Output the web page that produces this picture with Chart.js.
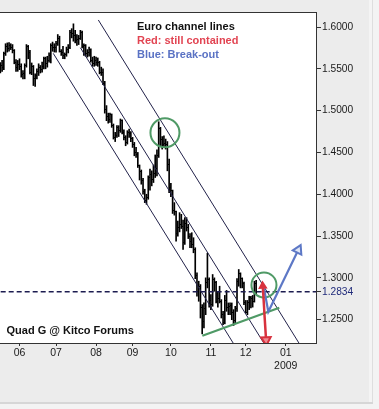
<!DOCTYPE html>
<html>
<head>
<meta charset="utf-8">
<script src="https://cdn.jsdelivr.net/npm/chart.js@4.4.1/dist/chart.umd.min.js"></script>
<style>
  html, body { margin: 0; padding: 0; background: #f3f3f3; }
  #wrap { position: relative; width: 379px; height: 409px; overflow: hidden; }
  #panel { position: absolute; left: 0; top: 0; width: 369px; height: 402px; background: #ececec; }
  #edgeR { position: absolute; left: 369px; top: 0; width: 3px; height: 402px; background: #f4f4f4; }
  #edgeR2 { position: absolute; left: 372px; top: 0; width: 1px; height: 403px; background: #dedede; }
  #edgeB { position: absolute; left: 0; top: 402px; width: 373px; height: 2px; background: #d6d6d6; }
  #c { position: absolute; left: 0; top: 0; }
</style>
</head>
<body>
<div id="wrap">
  <div id="panel"></div><div id="edgeR"></div><div id="edgeR2"></div><div id="edgeB"></div>
  <canvas id="c" width="379" height="409"></canvas>
</div>
<script>
// ---------- DATA (EUR/USD daily bars) ----------
const dates = [
 '2008-05-16','2008-05-19','2008-05-20','2008-05-21','2008-05-22','2008-05-23','2008-05-26','2008-05-27','2008-05-28','2008-05-29','2008-05-30',
 '2008-06-02','2008-06-03','2008-06-04','2008-06-05','2008-06-06','2008-06-09','2008-06-10','2008-06-11','2008-06-12','2008-06-13',
 '2008-06-16','2008-06-17','2008-06-18','2008-06-19','2008-06-20','2008-06-23','2008-06-24','2008-06-25','2008-06-26','2008-06-27','2008-06-30',
 '2008-07-01','2008-07-02','2008-07-03','2008-07-04','2008-07-07','2008-07-08','2008-07-09','2008-07-10','2008-07-11','2008-07-14','2008-07-15',
 '2008-07-16','2008-07-17','2008-07-18','2008-07-21','2008-07-22','2008-07-23','2008-07-24','2008-07-25','2008-07-28','2008-07-29','2008-07-30','2008-07-31',
 '2008-08-01','2008-08-04','2008-08-05','2008-08-06','2008-08-07','2008-08-08','2008-08-11','2008-08-12','2008-08-13','2008-08-14','2008-08-15',
 '2008-08-18','2008-08-19','2008-08-20','2008-08-21','2008-08-22','2008-08-25','2008-08-26','2008-08-27','2008-08-28','2008-08-29',
 '2008-09-01','2008-09-02','2008-09-03','2008-09-04','2008-09-05','2008-09-08','2008-09-09','2008-09-10','2008-09-11','2008-09-12',
 '2008-09-15','2008-09-16','2008-09-17','2008-09-18','2008-09-19','2008-09-22','2008-09-23','2008-09-24','2008-09-25','2008-09-26','2008-09-29','2008-09-30',
 '2008-10-01','2008-10-02','2008-10-03','2008-10-06','2008-10-07','2008-10-08','2008-10-09','2008-10-10','2008-10-13','2008-10-14','2008-10-15',
 '2008-10-16','2008-10-17','2008-10-20','2008-10-21','2008-10-22','2008-10-23','2008-10-24','2008-10-27','2008-10-28','2008-10-29','2008-10-30','2008-10-31',
 '2008-11-03','2008-11-04','2008-11-05','2008-11-06','2008-11-07','2008-11-10','2008-11-11','2008-11-12','2008-11-13','2008-11-14',
 '2008-11-17','2008-11-18','2008-11-19','2008-11-20','2008-11-21','2008-11-24','2008-11-25','2008-11-26','2008-11-27','2008-11-28',
 '2008-12-01','2008-12-02','2008-12-03','2008-12-04','2008-12-05','2008-12-08','2008-12-09'
];
const open = [
 1.5470,1.5545,1.5510,1.5680,1.5770,1.5740,1.5775,1.5760,1.5720,1.5580,1.5520,
 1.5550,1.5530,1.5430,1.5440,1.5540,1.5770,1.5700,1.5460,1.5530,1.5380,
 1.5420,1.5470,1.5510,1.5490,1.5530,1.5620,1.5560,1.5600,1.5660,1.5780,1.5760,
 1.5750,1.5800,1.5860,1.5710,1.5700,1.5660,1.5670,1.5730,1.5760,1.5930,1.5920,
 1.5900,1.5840,1.5850,1.5860,1.5940,1.5770,1.5780,1.5680,1.5700,1.5730,1.5600,1.5560,
 1.5600,1.5570,1.5580,1.5460,1.5450,1.5330,1.5010,1.4930,1.4890,1.4950,1.4820,
 1.4680,1.4700,1.4800,1.4760,1.4880,1.4740,1.4680,1.4620,1.4740,1.4730,
 1.4670,1.4600,1.4500,1.4480,1.4340,1.4270,1.4170,1.4030,1.3920,1.3960,
 1.4200,1.4240,1.4180,1.4250,1.4310,1.4460,1.4790,1.4650,1.4600,1.4610,1.4600,1.4360,
 1.4080,1.4040,1.3800,1.3790,1.3530,1.3600,1.3640,1.3620,1.3420,1.3650,1.3600,
 1.3500,1.3440,1.3400,1.3340,1.3030,1.2840,1.2900,1.2640,1.2480,1.2630,1.2950,1.2980,
 1.2730,1.2680,1.2980,1.2940,1.2720,1.2750,1.2720,1.2560,1.2470,1.2730,
 1.2640,1.2660,1.2670,1.2590,1.2490,1.2630,1.2960,1.3050,1.2990,1.2930,
 1.2700,1.2590,1.2700,1.2760,1.2750,1.2720,1.2930
];
const high = [
 1.5575,1.5600,1.5700,1.5800,1.5810,1.5815,1.5800,1.5790,1.5730,1.5610,1.5600,
 1.5620,1.5560,1.5480,1.5560,1.5790,1.5780,1.5720,1.5570,1.5540,1.5440,
 1.5500,1.5560,1.5540,1.5580,1.5640,1.5640,1.5650,1.5690,1.5800,1.5820,1.5800,
 1.5830,1.5910,1.5890,1.5730,1.5770,1.5690,1.5760,1.5790,1.5960,1.5980,1.6038,
 1.5960,1.5910,1.5900,1.5960,1.5950,1.5800,1.5790,1.5730,1.5760,1.5740,1.5640,1.5650,
 1.5640,1.5630,1.5590,1.5520,1.5500,1.5350,1.5060,1.4970,1.4970,1.4960,1.4840,
 1.4740,1.4820,1.4820,1.4900,1.4890,1.4770,1.4700,1.4760,1.4780,1.4750,
 1.4680,1.4620,1.4560,1.4500,1.4350,1.4290,1.4190,1.4060,1.4000,1.4220,
 1.4300,1.4280,1.4350,1.4470,1.4530,1.4867,1.4800,1.4690,1.4700,1.4660,1.4630,1.4420,
 1.4130,1.4050,1.3900,1.3800,1.3680,1.3780,1.3760,1.3690,1.3720,1.3720,1.3640,
 1.3530,1.3540,1.3480,1.3360,1.3060,1.2960,1.2920,1.2680,1.2700,1.3000,1.3295,1.3000,
 1.2800,1.3040,1.3000,1.2960,1.2840,1.2900,1.2740,1.2600,1.2790,1.2850,
 1.2700,1.2700,1.2700,1.2620,1.2660,1.2990,1.3100,1.3060,1.3000,1.2950,
 1.2730,1.2730,1.2780,1.2780,1.2790,1.2960,1.2970
];
const low = [
 1.5450,1.5470,1.5490,1.5660,1.5700,1.5710,1.5730,1.5690,1.5560,1.5470,1.5470,
 1.5490,1.5400,1.5380,1.5380,1.5520,1.5620,1.5440,1.5430,1.5300,1.5290,
 1.5380,1.5420,1.5450,1.5460,1.5500,1.5500,1.5520,1.5580,1.5570,1.5710,1.5700,
 1.5700,1.5780,1.5700,1.5660,1.5620,1.5620,1.5650,1.5690,1.5740,1.5870,1.5830,
 1.5810,1.5780,1.5790,1.5850,1.5750,1.5660,1.5650,1.5640,1.5650,1.5580,1.5530,1.5530,
 1.5540,1.5530,1.5440,1.5420,1.5310,1.4970,1.4880,1.4850,1.4860,1.4800,1.4660,
 1.4630,1.4680,1.4690,1.4740,1.4720,1.4650,1.4580,1.4600,1.4680,1.4630,
 1.4560,1.4460,1.4440,1.4320,1.4170,1.4120,1.4000,1.3900,1.3880,1.3940,
 1.4050,1.4100,1.4140,1.4200,1.4220,1.4440,1.4580,1.4540,1.4560,1.4540,1.4280,1.4020,
 1.3970,1.3770,1.3750,1.3440,1.3500,1.3550,1.3590,1.3340,1.3400,1.3560,1.3470,
 1.3360,1.3360,1.3300,1.2990,1.2780,1.2720,1.2520,1.2330,1.2400,1.2560,1.2880,1.2650,
 1.2620,1.2660,1.2840,1.2700,1.2650,1.2700,1.2520,1.2440,1.2450,1.2600,
 1.2560,1.2560,1.2500,1.2430,1.2450,1.2600,1.2900,1.2880,1.2880,1.2680,
 1.2580,1.2560,1.2620,1.2640,1.2650,1.2710,1.2800
];
const close = [
 1.5545,1.5510,1.5680,1.5770,1.5740,1.5775,1.5760,1.5720,1.5580,1.5520,1.5550,
 1.5530,1.5430,1.5440,1.5540,1.5770,1.5700,1.5460,1.5530,1.5380,1.5420,
 1.5470,1.5510,1.5490,1.5530,1.5620,1.5560,1.5600,1.5660,1.5780,1.5760,1.5750,
 1.5800,1.5860,1.5710,1.5700,1.5660,1.5670,1.5730,1.5760,1.5930,1.5920,1.5900,
 1.5840,1.5850,1.5860,1.5940,1.5770,1.5780,1.5680,1.5700,1.5730,1.5600,1.5560,1.5600,
 1.5570,1.5580,1.5460,1.5450,1.5330,1.5010,1.4930,1.4890,1.4950,1.4820,1.4680,
 1.4700,1.4800,1.4760,1.4880,1.4740,1.4680,1.4620,1.4740,1.4730,1.4670,
 1.4600,1.4500,1.4480,1.4340,1.4270,1.4170,1.4030,1.3920,1.3960,1.4200,
 1.4240,1.4180,1.4250,1.4310,1.4460,1.4790,1.4650,1.4600,1.4610,1.4600,1.4360,1.4080,
 1.4040,1.3800,1.3790,1.3530,1.3600,1.3640,1.3620,1.3420,1.3650,1.3600,1.3500,
 1.3440,1.3400,1.3340,1.3030,1.2840,1.2900,1.2640,1.2480,1.2630,1.2950,1.2980,1.2730,
 1.2680,1.2980,1.2940,1.2720,1.2750,1.2720,1.2560,1.2470,1.2730,1.2640,
 1.2660,1.2670,1.2590,1.2490,1.2630,1.2960,1.3050,1.2990,1.2930,1.2700,
 1.2590,1.2700,1.2760,1.2750,1.2720,1.2930,1.2834
];
const lastPrice = 1.2834;

// month axis
const monthStarts = ['2008-06-02','2008-07-01','2008-08-01','2008-09-01','2008-10-01','2008-11-03','2008-12-01','2009-01-01'];
const monthLabels = ['06','07','08','09','10','11','12',['01','2009']];
const priceTicks = [1.25, 1.2834, 1.30, 1.35, 1.40, 1.45, 1.50, 1.55, 1.60];

// annotation drawings (weekday index, price)
const channelLow  = [[19.4, 1.5685], [122.9, 1.2217]];
const channelMid  = [[35.0, 1.5752], [140.5, 1.2217]];
const channelHigh = [[45.3, 1.6084], [160.7, 1.2217]];
const supportLine = [[105.1, 1.2308], [149.3, 1.2643]];
const circles     = [[83.6, 1.4736, 14.5], [140.5, 1.2915, 12.5]];
const redArrow    = [[139.8, 1.2903], [141.7, 1.2257]];
const blueArrow   = [[140.5, 1.2875], [143.0, 1.2595], [160.2, 1.3333]];

// weekday index counted from Mon 2 June 2008
function wd(s) {
  const [y, m, d] = s.split('-').map(Number);
  const days = Math.round((Date.UTC(y, m - 1, d) - Date.UTC(2008, 5, 2)) / 864e5);
  const w = Math.floor(days / 7), r = days - w * 7;
  return w * 5 + Math.min(r, 5);
}
const xs = dates.map(wd);
const monthTickVals = monthStarts.map(wd);
const pts = a => a.map(p => ({x: p[0], y: p[1]}));

function tickImg(side) {
  const c = document.createElement('canvas');
  c.width = 4; c.height = 1;
  const g = c.getContext('2d');
  g.fillStyle = '#000';
  g.fillRect(side === 'open' ? 0 : 2, 0, 2, 1);
  return c;
}

const chanColor = '#22224a';
const bgPlugin = {
  id: 'bg',
  beforeDraw(chart) {
    const {ctx, chartArea: a} = chart;
    ctx.save();
    ctx.fillStyle = '#ffffff';
    ctx.fillRect(a.left, a.top, a.right - a.left, a.bottom - a.top);
    ctx.restore();
  },
  afterDraw(chart) {
    const {ctx, chartArea: a} = chart;
    ctx.save();
    ctx.strokeStyle = '#333';
    ctx.lineWidth = 1;
    ctx.beginPath();
    ctx.moveTo(a.left, a.top + 0.5);
    ctx.lineTo(a.right, a.top + 0.5);
    ctx.stroke();
    ctx.font = 'bold 11px "Liberation Sans", Arial, sans-serif';
    ctx.textBaseline = 'alphabetic';
    ctx.fillStyle = '#111';
    ctx.fillText('Euro channel lines', 137, 30);
    ctx.fillStyle = '#e24452';
    ctx.fillText('Red: still contained', 137, 44);
    ctx.fillStyle = '#5a72c4';
    ctx.fillText('Blue: Break-out', 137, 57.5);
    ctx.fillStyle = '#111';
    ctx.fillText('Quad G @ Kitco Forums', 6.5, 334);
    ctx.restore();
  }
};

new Chart(document.getElementById('c'), {
  type: 'line',
  data: {
    datasets: [
      {
        type: 'bar', order: 10,
        data: xs.map((x, i) => ({x, y: [low[i], high[i]]})),
        backgroundColor: '#000', borderWidth: 0, barThickness: 1, grouped: false
      },
      {
        type: 'scatter', order: 9, showLine: false,
        data: xs.map((x, i) => ({x, y: open[i]})),
        pointStyle: tickImg('open'), pointRadius: 1, pointHoverRadius: 1
      },
      {
        type: 'scatter', order: 9, showLine: false,
        data: xs.map((x, i) => ({x, y: close[i]})),
        pointStyle: tickImg('close'), pointRadius: 1, pointHoverRadius: 1
      },
      { type: 'line', order: 5, data: pts(channelLow),  borderColor: chanColor, borderWidth: 1, pointRadius: 0 },
      { type: 'line', order: 5, data: pts(channelMid),  borderColor: chanColor, borderWidth: 1, pointRadius: 0 },
      { type: 'line', order: 5, data: pts(channelHigh), borderColor: chanColor, borderWidth: 1, pointRadius: 0 },
      {
        type: 'line', order: 4,
        data: [{x: -20, y: lastPrice}, {x: 200, y: lastPrice}],
        borderColor: '#1c1c50', borderWidth: 1.3, borderDash: [5, 3], pointRadius: 0
      },
      { type: 'line', order: 3, data: pts(supportLine), borderColor: '#4f9a66', borderWidth: 2.2, pointRadius: 0 },
      {
        type: 'scatter', order: 2, showLine: false,
        data: pts(circles),
        pointRadius: circles.map(c => c[2]),
        pointStyle: 'circle', borderColor: '#4f9a66', borderWidth: 2, backgroundColor: 'rgba(0,0,0,0)'
      },
      {
        type: 'line', order: 1, data: pts(blueArrow),
        borderColor: '#5d78c6', borderWidth: 2.2,
        pointStyle: 'triangle', pointRadius: [0, 0, 5.5], pointRotation: [0, 0, 26],
        pointBorderColor: '#5d78c6', pointBackgroundColor: '#dfe6f6', pointBorderWidth: 2
      },
      {
        type: 'line', order: 0, data: pts(redArrow),
        borderColor: '#d8323e', borderWidth: 2.5,
        pointStyle: 'triangle', pointRadius: [3.5, 5.5], pointRotation: [-3, 177],
        pointBorderColor: '#d8323e', pointBackgroundColor: ['#d8323e', '#ef8a92'], pointBorderWidth: 2
      }
    ]
  },
  options: {
    responsive: false, animation: false, devicePixelRatio: 1,
    layout: { autoPadding: false, padding: { left: 0, top: 12, right: 0, bottom: 0 } },
    plugins: { legend: { display: false }, tooltip: { enabled: false } },
    scales: {
      x: {
        type: 'linear', offset: false, min: -11.2, max: 170.4,
        afterBuildTicks(s) { s.ticks = monthTickVals.map(v => ({value: v})); },
        afterFit(s) { s.height = 66; s.paddingLeft = 0; s.paddingRight = 0; },
        grid: { drawOnChartArea: false, drawTicks: true, tickLength: 3, color: '#333', offset: false },
        border: { display: true, color: '#333', width: 1 },
        ticks: {
          autoSkip: false, maxRotation: 0, padding: 1, color: '#1a1a1a',
          font: { family: '"Liberation Sans", Arial, sans-serif', size: 10.5 },
          callback: (v, i) => monthLabels[i]
        }
      },
      y: {
        type: 'linear', position: 'right', min: 1.2221, max: 1.61794,
        afterBuildTicks(s) { s.ticks = priceTicks.map(v => ({value: v})); },
        afterFit(s) { s.width = 63; s.paddingTop = 0; s.paddingBottom = 0; },
        grid: { drawOnChartArea: false, drawTicks: true, tickLength: 5, color: '#333' },
        border: { display: true, color: '#333', width: 1 },
        ticks: {
          autoSkip: false, padding: 1,
          color: c => (c.tick && c.tick.value === lastPrice) ? '#1f2a7a' : '#1a1a1a',
          font: { family: '"Liberation Sans", Arial, sans-serif', size: 10.2 },
          callback: v => Number(v).toFixed(4)
        }
      }
    }
  },
  plugins: [bgPlugin]
});
</script>
</body>
</html>
